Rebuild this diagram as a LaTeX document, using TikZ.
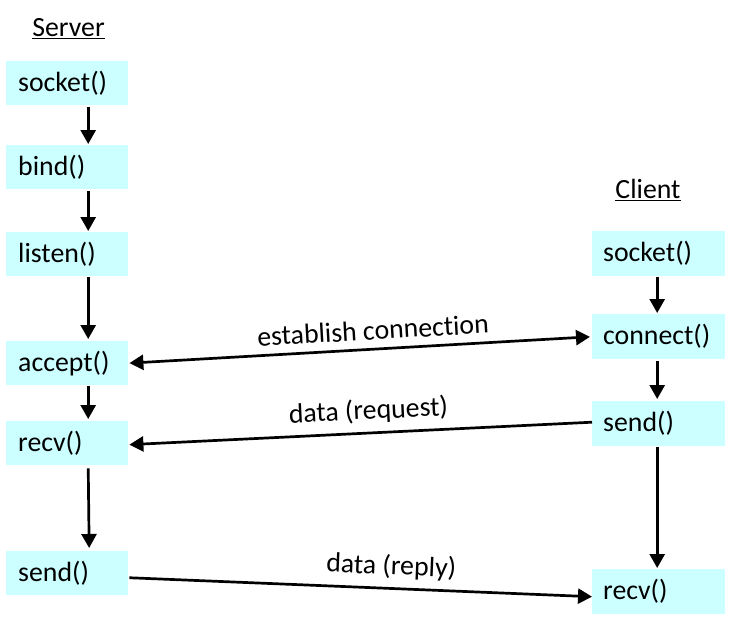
\documentclass[tikz,border=0pt]{standalone}
\usepackage{fontspec}
\setmainfont[Ligatures=NoCommon]{Carlito}
\usetikzlibrary{arrows.meta}
\definecolor{boxfill}{RGB}{204,255,255}
\tikzset{
  sbox/.style={fill=boxfill, draw=none, anchor=north west, minimum width=122pt, minimum height=44pt,
    inner xsep=12pt, inner ysep=0pt, text width=98pt, align=left, font=\fontsize{27.8}{32}\selectfont},
  cbox/.style={sbox, minimum width=133pt, minimum height=45pt, inner xsep=11pt, text width=111pt},
  arr/.style={line width=2.7pt, -{Triangle[width=15pt,length=14pt]}},
  darr/.style={line width=2.7pt, {Triangle[width=15pt,length=14pt]}-{Triangle[width=15pt,length=14pt]}},
  lbl/.style={font=\fontsize{27.8}{32}\selectfont, sloped, above=8pt, inner sep=0pt},
  hdr/.style={font=\fontsize{27.8}{32}\selectfont, inner sep=0pt}
}
\begin{document}
\begin{tikzpicture}[x=1pt,y=-1pt]
\useasboundingbox (0,0) rectangle (737,626);
% headers
\node[hdr] (srv) at (68.5,29) {\underline{Server}};
\node[hdr] (cli) at (648,190) {\underline{Client}};
% server boxes
\node[sbox] (s1) at (6,61) {socket()};
\node[sbox] (s2) at (6,145) {bind()};
\node[sbox] (s3) at (6,232) {listen()};
\node[sbox] (s4) at (6,341) {accept()};
\node[sbox] (s5) at (6,421) {recv()};
\node[sbox] (s6) at (6,551) {send()};
% client boxes
\node[cbox] (c1) at (592,231) {socket()};
\node[cbox] (c2) at (592,314) {connect()};
\node[cbox] (c3) at (592,401) {send()};
\node[cbox] (c4) at (592,569) {recv()};
% server vertical arrows
\draw[arr, shorten <=2pt, shorten >=1pt] ([xshift=21pt]s1.south) -- ([xshift=21pt]s2.north);
\draw[arr, shorten <=2pt, shorten >=1pt] ([xshift=21pt]s2.south) -- ([xshift=21pt]s3.north);
\draw[arr, shorten <=1pt, shorten >=2pt] ([xshift=21pt]s3.south) -- ([xshift=21pt]s4.north);
\draw[arr, shorten <=1pt, shorten >=2pt] ([xshift=21pt]s4.south) -- ([xshift=21pt]s5.north);
\draw[arr, shorten <=3pt, shorten >=3pt] ([xshift=21pt]s5.south) -- ([xshift=22pt]s6.north);
% client vertical arrows
\draw[arr, shorten <=1pt, shorten >=1pt] ([xshift=-1.5pt]c1.south) -- ([xshift=-1.5pt]c2.north);
\draw[arr, shorten <=2pt, shorten >=2pt] ([xshift=-1.5pt]c2.south) -- ([xshift=-1.5pt]c3.north);
\draw[arr, shorten <=1pt, shorten >=1pt] ([xshift=-1.5pt]c3.south) -- ([xshift=-1.5pt]c4.north);
% horizontal messages
\draw[darr, shorten <=1pt, shorten >=2pt] (s4.east) -- node[lbl, pos=0.53] {establish connection} (c2.west);
\draw[arr, shorten >=1pt] ([yshift=1.5pt]c3.west) -- node[lbl, pos=0.48] {data (request)} ([yshift=-1.5pt]s5.east);
\draw[arr, shorten <=1pt] ([yshift=-4.5pt]s6.east) -- node[lbl, pos=0.565] {data (reply)} ([yshift=-5pt]c4.west);
\end{tikzpicture}
\end{document}
